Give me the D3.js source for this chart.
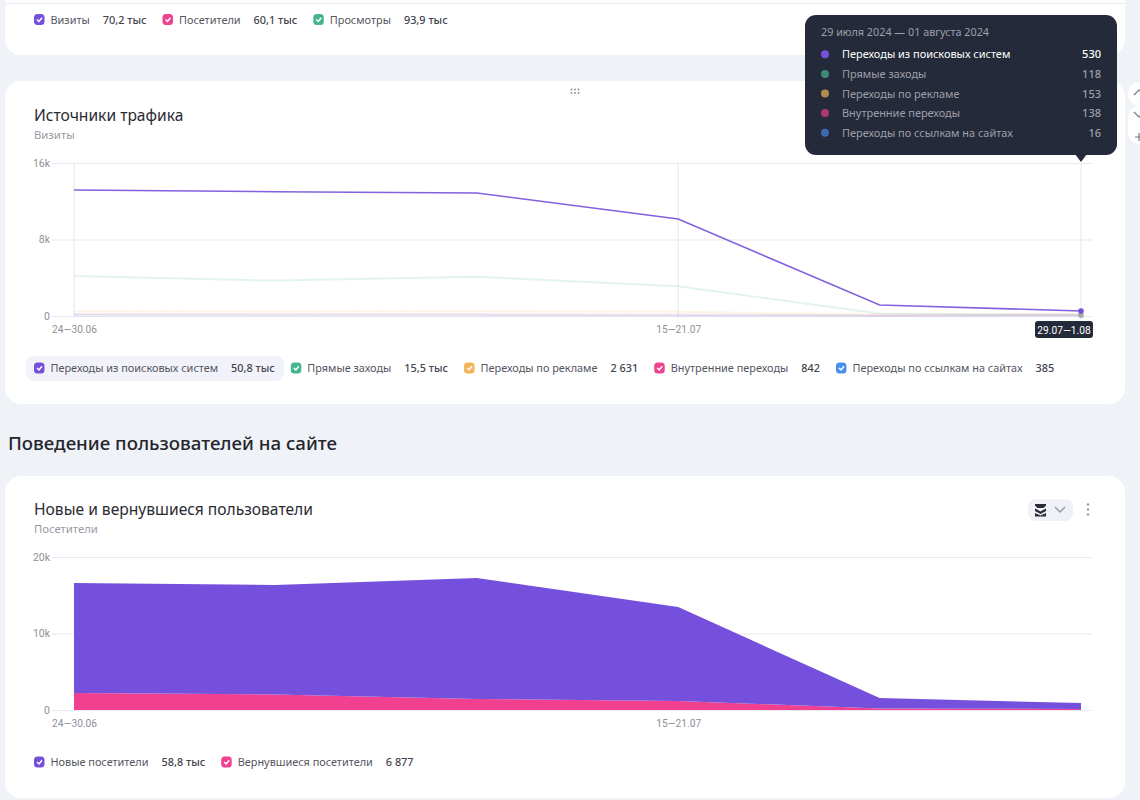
<!DOCTYPE html>
<html lang="ru">
  <head>
    <meta charset="utf-8">
    <title>Источники трафика</title>
    <style type="text/css">
    html, body { margin: 0; padding: 0; background: #eff2f7; overflow: hidden; }
    svg { display: block; font-family: "Noto Sans", sans-serif; }
    .card { fill: #fff; }
    .grid .domain { display: none; }
    .grid line { stroke: #e9e9ef; }
    .grid text { fill: #8f8f99; font-size: 10.5px; font-family: Roboto, sans-serif; }
    .xaxis .domain { display: none; }
    .xaxis line { display: none; }
    .xaxis text { fill: #8f8f99; font-size: 10.2px; font-family: Roboto, sans-serif; }
    .vline { stroke: #e6e6ee; stroke-width: 1; }
    .title { fill: #2b2b33; font-size: 15.6px; }
    .sub { fill: #9a9aa5; font-size: 11.3px; }
    .heading { fill: #25252d; font-size: 18.7px; font-weight: 500; }
    .leg-name { fill: #55555f; font-size: 10.9px; }
    .leg-val { fill: #44444e; font-size: 10.9px; font-weight: 500; }
    </style>
  </head>
  <body>
    <script src="https://cdn.jsdelivr.net/npm/d3@7/dist/d3.min.js"></script>
    <svg id="page" width="1140" height="800"></svg>
    <script type="text/javascript">

    // недели по оси X
    const weeks = ["24—30.06", "1—7.07", "8—14.07", "15—21.07", "22—28.07", "29.07—1.08"];
    const weekTicks = ["24—30.06", "15—21.07"];

    // Источники трафика
    const searchVisits = [13180, 13000, 12860, 10140, 1150, 530];
    const directVisits = [4180, 3700, 4100, 3100, 250, 118];
    const adVisits = [500, 480, 500, 450, 150, 153];
    const internalVisits = [200, 180, 170, 130, 60, 138];
    const linkVisits = [80, 80, 70, 60, 30, 16];
    const trafficTicks = [0, 8000, 16000];

    const trafficNames = ["Переходы из поисковых систем", "Прямые заходы", "Переходы по рекламе", "Внутренние переходы", "Переходы по ссылкам на сайтах"];
    const trafficTotals = ["50,8 тыс", "15,5 тыс", "2 631", "842", "385"];
    const trafficColors = ["#7550dc", "#45b48f", "#f4b455", "#f0408f", "#4a8ff0"];
    const tooltipDots = ["#7550dc", "#3f8a74", "#b08a50", "#a83a70", "#3d68b0"];

    // Новые и вернувшиеся
    const newVisitors = [14380, 14310, 15810, 12280, 1370, 770];
    const returnedVisitors = [2220, 2030, 1440, 1180, 200, 130];
    const visitorTicks = [0, 10000, 20000];
    const visitorNames = ["Новые посетители", "Вернувшиеся посетители"];
    const visitorTotals = ["58,8 тыс", "6 877"];
    const visitorColors = ["#7550dc", "#f0408f"];

    // верхняя карточка
    const summaryNames = ["Визиты", "Посетители", "Просмотры"];
    const summaryTotals = ["70,2 тыс", "60,1 тыс", "93,9 тыс"];
    const summaryColors = ["#7550dc", "#f0408f", "#45b48f"];

    const svg = d3.select("#page");

    // карточки
    svg.append("rect").attr("class", "card").attr("x", 5).attr("y", -30).attr("width", 1120).attr("height", 85).attr("rx", 16);
    svg.append("rect").attr("class", "card").attr("x", 5).attr("y", 81).attr("width", 1120).attr("height", 323).attr("rx", 16);
    svg.append("rect").attr("class", "card").attr("x", 5).attr("y", 476).attr("width", 1120).attr("height", 322).attr("rx", 16);
    svg.append("line").attr("x1", 5).attr("x2", 1125).attr("y1", 3.5).attr("y2", 3.5).attr("stroke", "#e9e9ef");

    const x = d3.scalePoint().domain(weeks).range([74, 1081]);

    function kFormat(d) {
      return d === 0 ? "0" : (d / 1000) + "k";
    }

    function drawAxes(g, y, ticks, bottom) {
      g.append("g").attr("class", "grid")
        .attr("transform", "translate(52,0)")
        .call(d3.axisLeft(y).tickValues(ticks).tickSize(-1040).tickPadding(2).tickFormat(kFormat));
      g.append("g").attr("class", "xaxis")
        .attr("transform", "translate(0," + bottom + ")")
        .call(d3.axisBottom(x).tickValues(weekTicks).tickSize(0).tickPadding(10));
    }

    // легенда: элементы идут друг за другом
    function drawLegend(g, names, totals, colors, startX, y) {
      var cx = startX;
      names.forEach(function(name, i) {
        var box = g.append("g").attr("transform", "translate(" + cx + "," + (y - 5.5) + ")");
        box.append("rect").attr("width", 10.5).attr("height", 11).attr("rx", 3.5).attr("fill", colors[i]);
        box.append("path").attr("d", "M3 5.5L5 7.5L8 3.8").attr("fill", "none").attr("stroke", "#fff").attr("stroke-width", 1.5);
        var label = g.append("text").attr("class", "leg-name").attr("x", cx + 16.5).attr("y", y + 4).text(name);
        var lx = cx + 16.5 + label.node().getComputedTextLength() + 13;
        var val = g.append("text").attr("class", "leg-val").attr("x", lx).attr("y", y + 4).text(totals[i]);
        cx = lx + val.node().getComputedTextLength() + 16;
      });
    }

    drawLegend(svg.append("g"), summaryNames, summaryTotals, summaryColors, 34, 19.5);

    // --- Источники трафика ---
    const traffic = svg.append("g");
    traffic.append("text").attr("class", "title").attr("x", 34).attr("y", 121).text("Источники трафика");
    traffic.append("text").attr("class", "sub").attr("x", 34).attr("y", 139).text("Визиты");

    // значок перетаскивания
    traffic.append("g").selectAll("circle")
      .data(d3.cross([0, 1, 2], [0, 1]))
      .enter().append("circle")
      .attr("cx", function(d) { return 571.5 + d[0] * 3.5; })
      .attr("cy", function(d) { return 89.5 + d[1] * 3.5; })
      .attr("r", 0.9).attr("fill", "#8a8a94");

    const yTraffic = d3.scaleLinear().domain([0, 16000]).range([316, 163]);
    drawAxes(traffic, yTraffic, trafficTicks, 316);

    traffic.selectAll(".vline")
      .data(["24—30.06", "15—21.07", "29.07—1.08"])
      .enter().append("line").attr("class", "vline")
      .attr("x1", function(d) { return x(d); })
      .attr("x2", function(d) { return x(d); })
      .attr("y1", 163).attr("y2", 318);

    const trafficSeries = [searchVisits, directVisits, adVisits, internalVisits, linkVisits];
    const line = d3.line().x(function(d, i) { return x(weeks[i]); }).y(function(d) { return yTraffic(d); });

    // выделена только первая серия, остальные бледные; рисуем её сверху
    [1, 2, 3, 4, 0].forEach(function(i) {
      traffic.append("path").attr("d", line(trafficSeries[i]))
        .attr("fill", "none")
        .attr("stroke", trafficColors[i])
        .attr("stroke-width", i === 0 ? 1.6 : 2)
        .attr("stroke-opacity", i === 0 ? 0.9 : 0.15);
    });

    [4, 3, 2, 1, 0].forEach(function(i) {
      traffic.append("circle")
        .attr("cx", x(weeks[5])).attr("cy", yTraffic(trafficSeries[i][5]))
        .attr("r", 2.8).attr("fill", trafficColors[i])
        .attr("fill-opacity", i === 0 ? 1 : 0.3);
    });

    // подпись текущей точки на оси
    traffic.append("rect").attr("x", 1035).attr("y", 321).attr("width", 58).attr("height", 17).attr("rx", 3).attr("fill", "#252a3a");
    traffic.append("text").attr("x", 1064).attr("y", 333.5).attr("text-anchor", "middle")
      .attr("fill", "#fff").attr("font-size", 10.2).attr("font-family", "Roboto, sans-serif").text(weeks[5]);

    traffic.append("rect").attr("x", 26).attr("y", 356).attr("width", 258).attr("height", 25).attr("rx", 8).attr("fill", "#f1f2fa");
    drawLegend(traffic, trafficNames, trafficTotals, trafficColors, 34, 368);

    // --- заголовок раздела ---
    svg.append("text").attr("class", "heading").attr("x", 8).attr("y", 450).text("Поведение пользователей на сайте");

    // --- Новые и вернувшиеся ---
    const visitors = svg.append("g");
    visitors.append("text").attr("class", "title").attr("x", 34).attr("y", 515).text("Новые и вернувшиеся пользователи");
    visitors.append("text").attr("class", "sub").attr("x", 34).attr("y", 533).text("Посетители");

    // переключатель типа графика
    visitors.append("rect").attr("x", 1028).attr("y", 499).attr("width", 45).attr("height", 22).attr("rx", 8).attr("fill", "#f0f1f6");
    visitors.append("path").attr("d", "M1035 504h11v1.5l-2.5 2.5h-6l-2.5-2.5zM1035 508.5l3 1.5 2.5 1.5 2.5-1.5 3-1.5v2.5l-5.5 3-5.5-3zM1035 513l5.5 2.5 5.5-2.5v3.5h-11z").attr("fill", "#2b2b38");
    visitors.append("path").attr("d", "M1055 507l5 5 5-5").attr("fill", "none").attr("stroke", "#9a9aa8").attr("stroke-width", 1.5);
    visitors.append("g").selectAll("circle").data([0, 1, 2]).enter().append("circle")
      .attr("cx", 1088).attr("cy", function(d) { return 504.5 + d * 5; }).attr("r", 1.2).attr("fill", "#9a9aa8");

    const yVisitors = d3.scaleLinear().domain([0, 20000]).range([710, 557]);
    drawAxes(visitors, yVisitors, visitorTicks, 710);

    const stackRows = weeks.map(function(w, i) {
      return { week: w, returned: returnedVisitors[i], fresh: newVisitors[i] };
    });
    const stacked = d3.stack().keys(["returned", "fresh"])(stackRows);
    const area = d3.area()
      .x(function(d) { return x(d.data.week); })
      .y0(function(d) { return yVisitors(d[0]); })
      .y1(function(d) { return yVisitors(d[1]); });

    visitors.selectAll(".layer").data(stacked).enter().append("path")
      .attr("class", "layer")
      .attr("d", area)
      .attr("fill", function(d, i) { return i === 0 ? visitorColors[1] : visitorColors[0]; });

    drawLegend(visitors, visitorNames, visitorTotals, visitorColors, 34, 762);

    // --- всплывающая подсказка ---
    const tip = svg.append("g");
    tip.append("path").attr("d", "M1075 154L1081 162L1087 154Z").attr("fill", "#252a3a");
    tip.append("rect").attr("x", 805).attr("y", 15).attr("width", 312).attr("height", 140).attr("rx", 11).attr("fill", "#252a3a");
    tip.append("text").attr("x", 821).attr("y", 36).attr("fill", "#9d9fa9").attr("font-size", 10.8).text("29 июля 2024 — 01 августа 2024");

    const tipY = d3.scaleBand().domain(trafficNames).range([44.5, 142.5]);
    const tipRows = tip.selectAll(".row").data(trafficNames).enter().append("g")
      .attr("class", "row")
      .attr("transform", function(d) { return "translate(0," + (tipY(d) + tipY.bandwidth() / 2) + ")"; });
    tipRows.append("circle").attr("cx", 825).attr("r", 4).attr("fill", function(d, i) { return tooltipDots[i]; });
    tipRows.append("text").attr("x", 842).attr("y", 4).attr("font-size", 10.95)
      .attr("fill", function(d, i) { return i === 0 ? "#fff" : "#9d9fa9"; })
      .text(function(d) { return d; });
    tipRows.append("text").attr("x", 1101).attr("y", 4).attr("text-anchor", "end").attr("font-size", 11)
      .attr("font-weight", 500)
      .attr("fill", function(d, i) { return i === 0 ? "#fff" : "#9d9fa9"; })
      .text(function(d, i) { return trafficSeries[i][5]; });

    // кнопки справа от карточки
    const side = svg.append("g");
    side.append("rect").attr("x", 1128).attr("y", 82).attr("width", 24).attr("height", 24).attr("rx", 12).attr("fill", "#fff");
    side.append("rect").attr("x", 1128).attr("y", 106).attr("width", 24).attr("height", 38).attr("rx", 12).attr("fill", "#fff");
    side.append("path").attr("d", "M1134 95l5-5 5 5M1134 112l5 5 5-5M1135 137h8M1139 133v8").attr("fill", "none").attr("stroke", "#777783").attr("stroke-width", 1.2);

    </script>
  </body>
</html>
